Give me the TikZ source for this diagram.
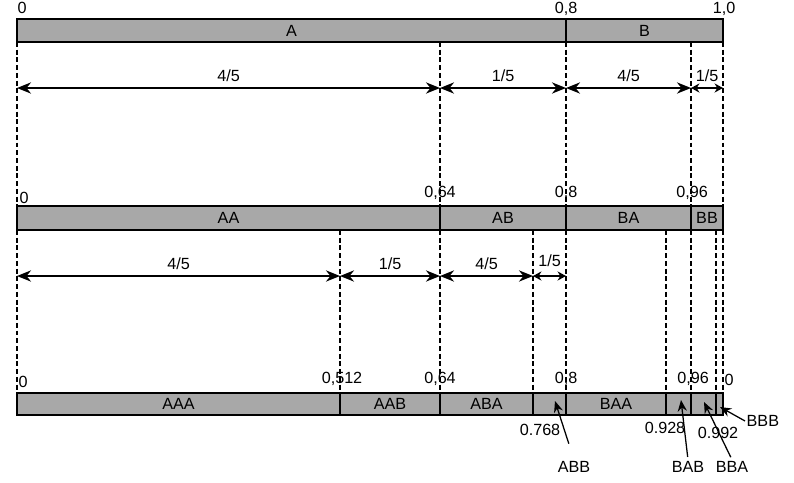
\documentclass[tikz,border=0pt]{standalone}
\usepackage{fontspec}
\setmainfont{Liberation Sans}
\usetikzlibrary{arrows.meta}
\definecolor{barfill}{RGB}{168,168,168}

\begin{document}
\begin{tikzpicture}[
    x=0.025cm, y=-0.025cm,
    font=\fontsize{11.5}{13}\selectfont,
    bar/.style={
        draw=black,
        line width=1.1pt,
        fill=barfill
    },
    cut/.style={
        line width=0.9pt,
        dash pattern=on 3.5pt off 2pt
    },
    lbl/.style={
        inner sep=1pt
    },
    dim/.style={
        {Stealth[length=10pt,width=8pt]}-{Stealth[length=10pt,width=8pt]},
        line width=1.2pt
    },
    smalldim/.style={
        {Stealth[length=6pt,width=6.5pt]}-{Stealth[length=6pt,width=6.5pt]},
        line width=1.2pt
    },
    ptr/.style={
        -{Stealth[length=8pt,width=6.5pt]},
        line width=0.9pt
    }
]
\useasboundingbox (0,0) rectangle (794,482);

% ============================================================
% BARS
% ============================================================

\foreach \a/\b/\t in {17/566/A, 566/723/B} {
    \draw[bar] (\a,19) rectangle (\b,42);
    \node[lbl] (\t) at ({(\a+\b)/2},31) {\t};
}

\foreach \a/\b/\t in {17/440/AA, 440/566/AB, 566/691/BA, 691/723/BB} {
    \draw[bar] (\a,206) rectangle (\b,230);
    \node[lbl] (\t) at ({(\a+\b)/2},218) {\t};
}

\foreach \a/\b/\t in {17/340/AAA, 340/440/AAB, 440/533/ABA, 566/666/BAA} {
    \draw[bar] (\a,393) rectangle (\b,415);
    \node[lbl] (\t) at ({(\a+\b)/2},404) {\t};
}
\foreach \a/\b in {533/566, 666/691, 691/716, 716/723}
    \draw[bar] (\a,393) rectangle (\b,415);

% ============================================================
% DASHED CUTS
% ============================================================

\foreach \x in {17,440,566,691,723}
    \draw[cut] (\x,42) -- (\x,206);
\foreach \x in {17,340,440,533,566,666,691,716,723}
    \draw[cut] (\x,230) -- (\x,393);

% ============================================================
% INTERVAL ARROWS
% ============================================================

\foreach \x in {17,440,566,691,723}
    \coordinate (u\x) at (\x,88);
\foreach \x in {17,340,440,533,566}
    \coordinate (v\x) at (\x,276);

\draw[dim] (u17) -- node[lbl,above=3pt] (f1) {4/5} (u440);
\draw[dim] (u440) -- node[lbl,above=3pt] (f2) {1/5} (u566);
\draw[dim] (u566) -- node[lbl,above=3pt] (f3) {4/5} (u691);
\draw[smalldim] (u691) -- node[lbl,above=3pt] (f4) {1/5} (u723);

\draw[dim] (v17) -- node[lbl,above=3pt] (g1) {4/5} (v340);
\draw[dim] (v340) -- node[lbl,above=3pt] (g2) {1/5} (v440);
\draw[dim] (v440) -- node[lbl,above=3pt] (g3) {4/5} (v533);
\draw[smalldim] (v533) -- node[lbl,above=5pt] (g4) {1/5} (v566);

% ============================================================
% BOUNDARY VALUES
% ============================================================

\node[lbl] (t0)   at (22,8)   {0};
\node[lbl] (t08)  at (566,9)  {0,8};
\node[lbl] (t10)  at (724,9)  {1,0};

\node[lbl] (s0)   at (24,198)  {0};
\node[lbl] (s064) at (440,193) {0,64};
\node[lbl] (s08)  at (566,193) {0,8};
\node[lbl] (s096) at (692,193) {0,96};

\node[lbl] (w0)    at (23,382)  {0};
\node[lbl] (w0512) at (342,379) {0,512};
\node[lbl] (w064)  at (440,379) {0,64};
\node[lbl] (w08)   at (566,379) {0,8};
\node[lbl] (w096)  at (693,379) {0,96};
\node[lbl] (w10)   at (729,380) {0};

\node[lbl] (w0768) at (540,430) {0.768};
\node[lbl] (w0928) at (665,428) {0.928};
\node[lbl] (w0992) at (718,433) {0.992};

% ============================================================
% SMALL SEGMENTS
% ============================================================

\coordinate (ABBp) at (555,401);
\coordinate (BABp) at (681,400);
\coordinate (BBAp) at (704,402);
\coordinate (BBBp) at (720,407);

\node[lbl] (ABB) at (574,467) {ABB};
\node[lbl] (BAB) at (688,467) {BAB};
\node[lbl] (BBA) at (732,467) {BBA};
\node[lbl,anchor=west] (BBB) at (745,421) {BBB};

\draw[ptr, shorten <=12pt] (ABB.north) -- (ABBp);
\draw[ptr, shorten <=2pt] (BAB.north) -- (BABp);
\draw[ptr, shorten <=2pt] (BBA.north) -- (BBAp);
\draw[ptr] (BBB.west) -- (BBBp);

\end{tikzpicture}
\end{document}
